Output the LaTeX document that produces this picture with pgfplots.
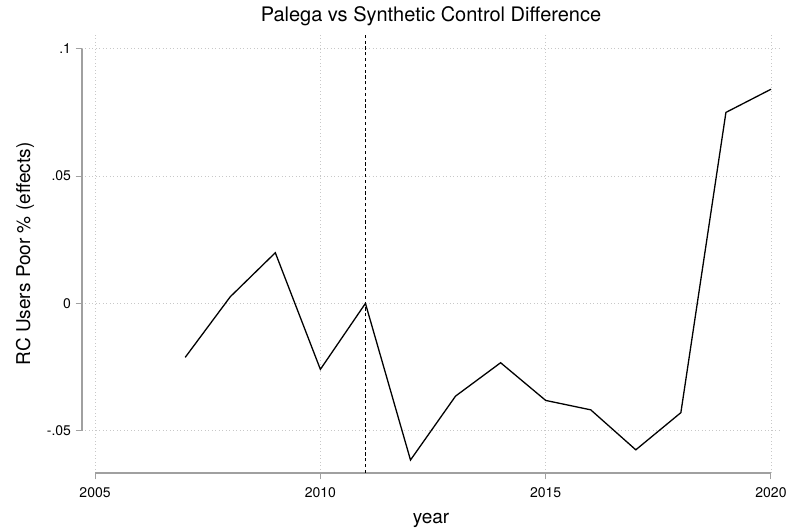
\documentclass[border=0pt]{standalone}
\usepackage{pgfplots}
\pgfplotsset{compat=1.18}
\usepackage{fontspec}
\setmainfont{TeX Gyre Heros}

\definecolor{spine}{RGB}{160,160,160}
\definecolor{gridc}{RGB}{200,200,200}

\begin{document}
\begin{tikzpicture}
\begin{axis}[
  scale only axis,
  width=698pt, height=438pt,
  xmin=2004.71, xmax=2020.2,
  ymin=-0.0666, ymax=0.1054,
  axis x line*=bottom, axis y line*=left,
  axis line style={draw=none},
  xtick={2005,2010,2015,2020},
  xticklabels={2005,2010,2015,2020},
  ytick={-0.05,0,0.05,0.1},
  yticklabels={-.05,0,.05,.1},
  tick align=outside,
  major tick length=6.5pt,
  tick style={spine, line width=1pt},
  grid=major,
  major grid style={gridc, line width=0.9pt, dash pattern=on 0.9pt off 2.6pt},
  ticklabel style={font=\fontsize{14}{16}\selectfont},
  xticklabel style={anchor=base, yshift=-18pt},
  yticklabel style={anchor=east, xshift=-1pt},
  title={Palega vs Synthetic Control Difference},
  title style={font=\fontsize{20}{24}\selectfont, at={(axis description cs:0.5,1.016)}, anchor=base},
  xlabel={year},
  xlabel style={font=\fontsize{19}{23}\selectfont, at={(axis description cs:0.5,-0.1164)}, anchor=base},
  ylabel={RC Users Poor \% (effects)},
  ylabel style={font=\fontsize{19}{23}\selectfont, at={(axis description cs:-0.0745,0.5)}, anchor=base, rotate=0},
  clip=false,
]
% axis spines, drawn only over the tick range
\draw[spine, line width=1.2pt] (axis cs:2005,-0.0666) -- (axis cs:2020,-0.0666);
\draw[spine, line width=1.2pt] (axis cs:2004.71,-0.05) -- (axis cs:2004.71,0.1);

% treatment year
\addplot[black, line width=1pt, dash pattern=on 3.2pt off 2.6pt]
  coordinates {(2011,-0.0666) (2011,0.1054)};

% gap between treated unit and synthetic control
\addplot[black, line width=1.3pt] coordinates {
  (2007,-0.0212) (2008,0.0026) (2009,0.0199) (2010,-0.0259)
  (2011,0.0000) (2012,-0.0615) (2013,-0.0364) (2014,-0.0233)
  (2015,-0.0381) (2016,-0.0418) (2017,-0.0575) (2018,-0.0429)
  (2019,0.0750) (2020,0.0841)
};
\end{axis}
\pgfresetboundingbox
\useasboundingbox (-82pt,-59pt) rectangle (705pt,473pt);
\end{tikzpicture}
\end{document}
